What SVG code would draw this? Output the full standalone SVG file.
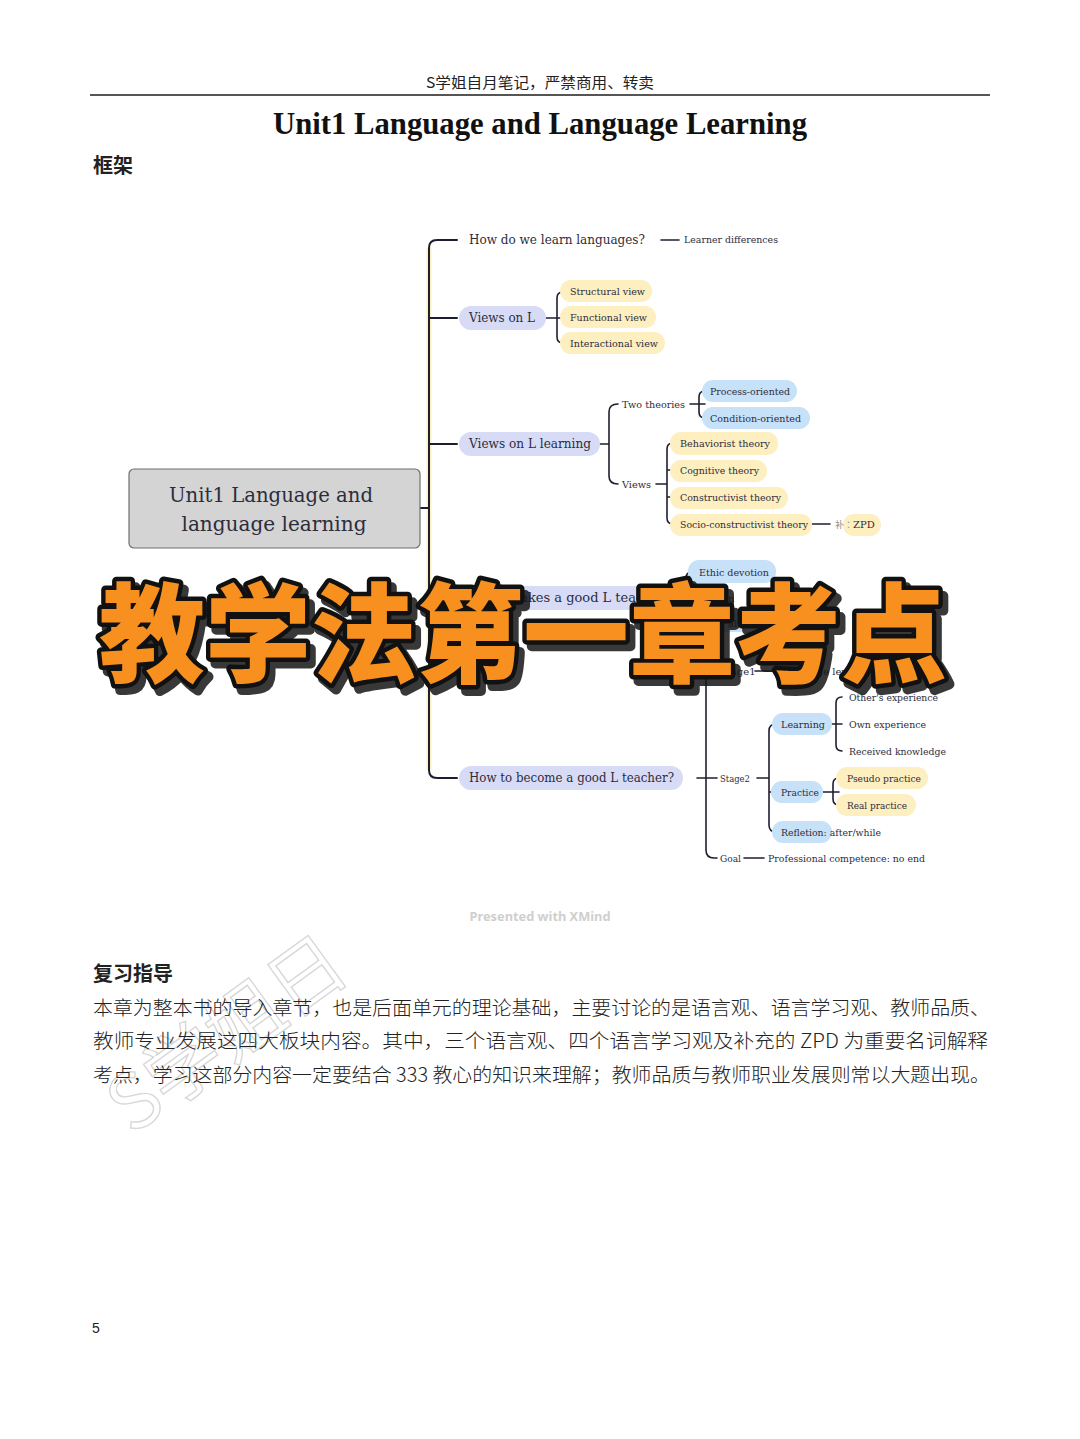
<svg xmlns="http://www.w3.org/2000/svg" width="1080" height="1439" viewBox="0 0 1080 1439">
<style>
.cn{font-family:"Noto Sans CJK SC","Noto Sans",sans-serif;fill:#222}
.mm{font-family:"DejaVu Serif","Liberation Serif",serif;fill:#2d2d3c}
.big{font-size:13px}
.sm{font-size:10px}
.lav{fill:#d8dbf6}
.yel{fill:#fdefc0}
.blu{fill:#c6e1f8}
.ln{fill:none;stroke:#1e1e30;stroke-width:2;stroke-linecap:round}
.ln2{fill:none;stroke:#1e1e30;stroke-width:1.6;stroke-linecap:round}
.glow{fill:none;stroke:#fbf3c4;stroke-width:5}
</style>
<rect width="1080" height="1439" fill="#ffffff"/>

<!-- page header -->
<g id="header">
<text class="cn" x="540" y="88" font-size="15" text-anchor="middle" fill="#333" textLength="228" lengthAdjust="spacingAndGlyphs">S学姐自月笔记，严禁商用、转卖</text>
<line x1="90" y1="95" x2="990" y2="95" stroke="#555" stroke-width="2"/>
<text x="540" y="134" font-family="Liberation Serif,serif" font-weight="bold" font-size="31" text-anchor="middle" textLength="534" lengthAdjust="spacingAndGlyphs" fill="#111">Unit1 Language and Language Learning</text>
<text class="cn" x="93" y="173" font-size="20" font-weight="bold" fill="#111">框架</text>
</g>

<!-- connectors -->
<g id="connectors">
<path class="glow" d="M 429 248 V 770"/>
<path class="ln" d="M 457 240 H 437 Q 429 240 429 248 V 770 Q 429 778 437 778 H 457"/>
<path class="ln" d="M 420 508 H 429 M 429 318 H 457 M 429 444 H 457 M 429 598 H 457"/>
<path class="ln2" d="M 661 240 H 679"/>
<path class="ln2" d="M 546 318 H 563 M 563 292 Q 557 292 557 298 V 337 Q 557 343 563 343"/>
<path class="ln2" d="M 600 444 H 609 M 618 404 Q 609 404 609 412 V 476 Q 609 484 618 484"/>
<path class="ln2" d="M 690 404 H 705 M 705 391 Q 699 391 699 397 V 412 Q 699 418 705 418"/>
<path class="ln2" d="M 656 484 H 667 M 673 443 Q 667 443 667 449 V 518 Q 667 524 673 524 M 667 470 H 673 M 667 497 H 673"/>
<path class="ln2" d="M 812 524 H 830"/>
<path class="ln2" d="M 692 572 Q 686 572 686 578 V 625"/>
<path class="ln2" d="M 697 778 H 717"/>
<path class="ln2" d="M 717 671 H 714 Q 706 671 706 679 V 850 Q 706 858 714 858 H 717"/>
<path class="ln2" d="M 755 671 H 775"/>
<path class="ln2" d="M 757 778 H 769 M 776 724 Q 769 724 769 731 V 825 Q 769 832 776 832 M 769 792 H 776"/>
<path class="ln2" d="M 832 724 H 842 M 842 697 Q 836 697 836 703 V 745 Q 836 751 842 751"/>
<path class="ln2" d="M 823 792 H 839 M 839 778 Q 833 778 833 784 V 799 Q 833 805 839 805"/>
<path class="ln2" d="M 744 858 H 764"/>
</g>

<!-- root -->
<g id="root">
<rect x="129" y="469" width="291" height="79" rx="5" fill="#d4d4d4" stroke="#6f6f6f" stroke-width="1.2"/>
<text class="mm" x="271" y="502" font-size="21" text-anchor="middle" textLength="204" lengthAdjust="spacingAndGlyphs">Unit1 Language and</text>
<text class="mm" x="274" y="531" font-size="21" text-anchor="middle" textLength="185" lengthAdjust="spacingAndGlyphs">language learning</text>
</g>

<!-- branch 1 -->
<g id="n-how-learn">
<text class="mm big" x="469" y="244" textLength="176" lengthAdjust="spacingAndGlyphs">How do we learn languages?</text>
</g>
<g id="n-learner-diff">
<text class="mm" x="684" y="243" font-size="9" textLength="94" lengthAdjust="spacingAndGlyphs">Learner differences</text>
</g>

<!-- branch 2 -->
<g id="n-views-l">
<rect class="lav" x="459" y="306" width="87" height="24" rx="12"/>
<text class="mm big" x="469" y="322" textLength="66" lengthAdjust="spacingAndGlyphs">Views on L</text>
</g>
<g id="n-structural">
<rect class="yel" x="560" y="280" width="92" height="22" rx="11"/>
<text class="mm sm" x="570" y="295" textLength="75" lengthAdjust="spacingAndGlyphs">Structural view</text>
</g>
<g id="n-functional">
<rect class="yel" x="560" y="306" width="96" height="22" rx="11"/>
<text class="mm sm" x="570" y="321" textLength="77" lengthAdjust="spacingAndGlyphs">Functional view</text>
</g>
<g id="n-interactional">
<rect class="yel" x="560" y="332" width="105" height="22" rx="11"/>
<text class="mm sm" x="570" y="347" textLength="88" lengthAdjust="spacingAndGlyphs">Interactional view</text>
</g>

<!-- branch 3 -->
<g id="n-views-ll">
<rect class="lav" x="459" y="432" width="141" height="24" rx="12"/>
<text class="mm big" x="469" y="448" textLength="122" lengthAdjust="spacingAndGlyphs">Views on L learning</text>
</g>
<g id="n-two-theories">
<text class="mm sm" x="622" y="408" textLength="63" lengthAdjust="spacingAndGlyphs">Two theories</text>
</g>
<g id="n-process">
<rect class="blu" x="702" y="380" width="95" height="22" rx="11"/>
<text class="mm sm" x="710" y="395" textLength="80" lengthAdjust="spacingAndGlyphs">Process-oriented</text>
</g>
<g id="n-condition">
<rect class="blu" x="702" y="407" width="108" height="22" rx="11"/>
<text class="mm sm" x="710" y="422" textLength="91" lengthAdjust="spacingAndGlyphs">Condition-oriented</text>
</g>
<g id="n-views">
<text class="mm sm" x="622" y="488" textLength="29" lengthAdjust="spacingAndGlyphs">Views</text>
</g>
<g id="n-behaviorist">
<rect class="yel" x="670" y="432" width="108" height="23" rx="11"/>
<text class="mm sm" x="680" y="447" textLength="90" lengthAdjust="spacingAndGlyphs">Behaviorist theory</text>
</g>
<g id="n-cognitive">
<rect class="yel" x="670" y="460" width="97" height="22" rx="11"/>
<text class="mm sm" x="680" y="474" textLength="79" lengthAdjust="spacingAndGlyphs">Cognitive theory</text>
</g>
<g id="n-constructivist">
<rect class="yel" x="670" y="487" width="118" height="22" rx="11"/>
<text class="mm sm" x="680" y="501" textLength="101" lengthAdjust="spacingAndGlyphs">Constructivist theory</text>
</g>
<g id="n-socio">
<rect class="yel" x="670" y="514" width="142" height="22" rx="11"/>
<text class="mm sm" x="680" y="528" textLength="128" lengthAdjust="spacingAndGlyphs">Socio-constructivist theory</text>
</g>
<g id="n-zpd">
<rect class="yel" x="843" y="514" width="38" height="22" rx="11"/>
<text class="mm sm" x="835" y="528"><tspan font-family="Noto Sans CJK KR,sans-serif" fill="#888" font-size="9">补：</tspan>ZPD</text>
</g>

<!-- branch 4 (mostly hidden) -->
<g id="n-what-makes">
<rect class="lav" x="459" y="586" width="200" height="24" rx="12"/>
<text class="mm big" x="469" y="602">What makes a good L teacher?</text>
</g>
<g id="n-ethic">
<rect class="blu" x="688" y="560" width="88" height="23" rx="11"/>
<text class="mm sm" x="699" y="576" textLength="70" lengthAdjust="spacingAndGlyphs">Ethic devotion</text>
</g>
<g id="n-hidden2">
<text class="mm sm" x="722" y="602">on</text>
</g>
<g id="n-hidden3">
<rect class="blu" x="700" y="612" width="50" height="20" rx="10"/>
<text class="mm sm" x="728" y="627">al</text>
</g>

<!-- branch 5 -->
<g id="n-how-become">
<rect class="lav" x="459" y="766" width="224" height="24" rx="12"/>
<text class="mm big" x="469" y="782" textLength="205" lengthAdjust="spacingAndGlyphs">How to become a good L teacher?</text>
</g>
<g id="n-stage1">
<text class="mm sm" x="720" y="675">Stage1</text>
</g>
<g id="n-lang-level">
<text class="mm sm" x="779" y="675">Language level</text>
</g>
<g id="n-stage2">
<text class="mm sm" x="720" y="782" textLength="30" lengthAdjust="spacingAndGlyphs">Stage2</text>
</g>
<g id="n-learning">
<rect class="blu" x="772" y="713" width="60" height="22" rx="11"/>
<text class="mm sm" x="781" y="728" textLength="44" lengthAdjust="spacingAndGlyphs">Learning</text>
</g>
<g id="n-others">
<text class="mm sm" x="849" y="701" textLength="89" lengthAdjust="spacingAndGlyphs">Other's experience</text>
</g>
<g id="n-own">
<text class="mm sm" x="849" y="728" textLength="77" lengthAdjust="spacingAndGlyphs">Own experience</text>
</g>
<g id="n-received">
<text class="mm sm" x="849" y="755" textLength="97" lengthAdjust="spacingAndGlyphs">Received knowledge</text>
</g>
<g id="n-practice">
<rect class="blu" x="771" y="781" width="52" height="22" rx="11"/>
<text class="mm sm" x="781" y="796" textLength="38" lengthAdjust="spacingAndGlyphs">Practice</text>
</g>
<g id="n-pseudo">
<rect class="yel" x="836" y="767" width="92" height="22" rx="11"/>
<text class="mm sm" x="847" y="782" textLength="74" lengthAdjust="spacingAndGlyphs">Pseudo practice</text>
</g>
<g id="n-real">
<rect class="yel" x="836" y="794" width="80" height="22" rx="11"/>
<text class="mm sm" x="847" y="809" textLength="60" lengthAdjust="spacingAndGlyphs">Real practice</text>
</g>
<g id="n-reflection">
<rect class="blu" x="772" y="821" width="60" height="22" rx="11"/>
<text class="mm sm" x="781" y="836" textLength="100" lengthAdjust="spacingAndGlyphs">Refletion: after/while</text>
</g>
<g id="n-goal">
<text class="mm sm" x="720" y="862" textLength="21" lengthAdjust="spacingAndGlyphs">Goal</text>
</g>
<g id="n-competence">
<text class="mm sm" x="768" y="862" textLength="157" lengthAdjust="spacingAndGlyphs">Professional competence: no end</text>
</g>

<text x="540" y="921" font-family="Noto Sans,sans-serif" font-weight="bold" font-size="11.5" text-anchor="middle" fill="#cfcfcf" textLength="141" lengthAdjust="spacingAndGlyphs">Presented with XMind</text>

<!-- overlay title -->
<g id="overlay">
<text x="104" y="680" font-family="Noto Sans CJK SC,sans-serif" font-weight="900" font-size="108" textLength="848" lengthAdjust="spacingAndGlyphs" fill="#161616" stroke="#161616" stroke-width="10" stroke-linejoin="round" opacity="0.85">教学法第一章考点</text>
<text x="99" y="674" font-family="Noto Sans CJK SC,sans-serif" font-weight="900" font-size="108" textLength="848" lengthAdjust="spacingAndGlyphs" fill="#f7901e" stroke="#111" stroke-width="9" stroke-linejoin="round" paint-order="stroke">教学法第一章考点</text>
</g>

<!-- watermark -->
<text x="132" y="1136" transform="rotate(-36 132 1136)" font-family="Noto Sans CJK SC,sans-serif" font-size="76" fill="none" stroke="#d8d8d8" stroke-width="1.4">S学姐日</text>

<!-- review guide -->
<g id="review">
<text class="cn" x="93" y="981" font-size="20" font-weight="bold" fill="#111">复习指导</text>
<text class="cn" x="93" y="1015" font-size="19.5" font-weight="300" textLength="897" lengthAdjust="spacingAndGlyphs">本章为整本书的导入章节，也是后面单元的理论基础，主要讨论的是语言观、语言学习观、教师品质、</text>
<text class="cn" x="93" y="1048" font-size="19.5" font-weight="300" textLength="895" lengthAdjust="spacingAndGlyphs">教师专业发展这四大板块内容。其中，三个语言观、四个语言学习观及补充的 ZPD 为重要名词解释</text>
<text class="cn" x="93" y="1082" font-size="19.5" font-weight="300" textLength="897" lengthAdjust="spacingAndGlyphs">考点，学习这部分内容一定要结合 333 教心的知识来理解；教师品质与教师职业发展则常以大题出现。</text>
</g>

<text x="92" y="1333" font-family="Liberation Sans,sans-serif" font-size="14" fill="#222">5</text>
</svg>
